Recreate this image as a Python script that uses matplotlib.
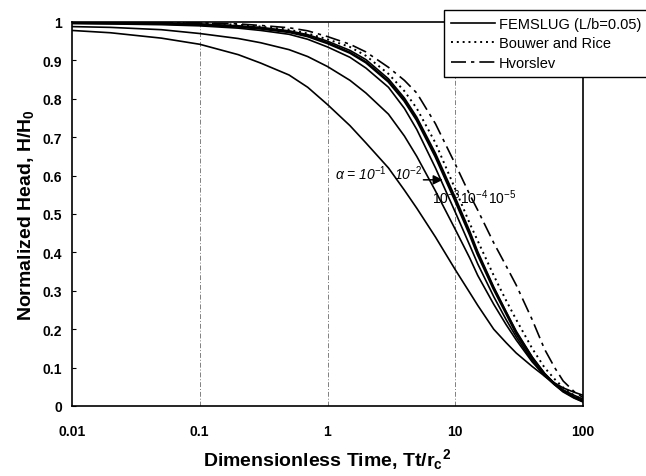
import matplotlib
matplotlib.use("Agg")
import matplotlib.pyplot as plt

plt.rcParams['font.family'] = ['Liberation Sans', 'DejaVu Sans']
plt.rcParams['mathtext.fontset'] = 'custom'
plt.rcParams['mathtext.rm'] = 'Liberation Sans'
plt.rcParams['mathtext.it'] = 'Liberation Sans:italic'
plt.rcParams['mathtext.bf'] = 'Liberation Sans:bold'

# Dimensionless time values (x) at which curves were read
t = [0.01, 0.02, 0.05, 0.1, 0.2, 0.3, 0.5, 0.7, 1, 1.5, 2, 3, 4, 5, 7, 10, 13, 15,
     20, 25, 30, 40, 50, 60, 70, 85, 100]

# FEMSLUG (L/b = 0.05) curves, alpha = 1e-1 ... 1e-5
fem_a1 = [0.978, 0.972, 0.958, 0.942, 0.915, 0.893, 0.862, 0.830, 0.785, 0.730, 0.685, 0.620, 0.562, 0.515,
          0.440, 0.355, 0.295, 0.262, 0.200, 0.165, 0.138, 0.103, 0.078, 0.060, 0.047, 0.036, 0.028]
fem_a2 = [0.988, 0.986, 0.980, 0.970, 0.957, 0.946, 0.928, 0.910, 0.884, 0.848, 0.815, 0.760, 0.703, 0.650,
          0.560, 0.460, 0.385, 0.340, 0.265, 0.212, 0.172, 0.115, 0.080, 0.058, 0.042, 0.028, 0.018]
fem_a3 = [0.996, 0.995, 0.993, 0.990, 0.984, 0.978, 0.968, 0.955, 0.935, 0.908, 0.880, 0.830, 0.775, 0.720,
          0.620, 0.505, 0.418, 0.370, 0.285, 0.225, 0.180, 0.118, 0.078, 0.055, 0.038, 0.024, 0.014]
fem_a4 = [0.998, 0.997, 0.996, 0.993, 0.988, 0.983, 0.974, 0.963, 0.945, 0.920, 0.895, 0.845, 0.795, 0.745,
          0.650, 0.535, 0.447, 0.395, 0.305, 0.242, 0.190, 0.125, 0.083, 0.057, 0.038, 0.022, 0.012]
fem_a5 = [0.999, 0.998, 0.997, 0.995, 0.990, 0.986, 0.977, 0.967, 0.950, 0.926, 0.902, 0.852, 0.802, 0.752,
          0.658, 0.543, 0.455, 0.402, 0.310, 0.246, 0.195, 0.128, 0.085, 0.058, 0.039, 0.022, 0.011]

# Analytical solutions
bouwer_rice = [1.0, 0.999, 0.998, 0.997, 0.993, 0.988, 0.980, 0.970, 0.955, 0.935, 0.912, 0.865, 0.820, 0.775,
               0.685, 0.565, 0.475, 0.430, 0.340, 0.275, 0.225, 0.150, 0.100, 0.070, 0.048, 0.028, 0.016]
hvorslev = [1.0, 1.0, 0.999, 0.998, 0.995, 0.991, 0.985, 0.977, 0.962, 0.942, 0.922, 0.882, 0.848, 0.815,
            0.735, 0.630, 0.550, 0.510, 0.425, 0.365, 0.315, 0.225, 0.148, 0.100, 0.065, 0.038, 0.022]

xticks = [0.01, 0.1, 1, 10, 100]
xticklabels = ['0.01', '0.1', '1', '10', '100']
yticks = [0, 0.1, 0.2, 0.3, 0.4, 0.5, 0.6, 0.7, 0.8, 0.9, 1]
yticklabels = ['0', '0.1', '0.2', '0.3', '0.4', '0.5', '0.6', '0.7', '0.8', '0.9', '1']

fig = plt.figure(figsize=(6.46, 4.77), dpi=100)
ax = fig.add_axes([72/646, 1-407/477, (583-72)/646, (407-23)/477])

for xv in [0.1, 1, 10]:
    ax.axvline(xv, color='0.5', lw=0.7, ls=(0, (5, 2, 1, 2)), zorder=1)

lf, = ax.plot(t, fem_a1, color='black', lw=1.2, zorder=3)
ax.plot(t, fem_a2, color='black', lw=1.2, zorder=3)
ax.plot(t, fem_a3, color='black', lw=1.2, zorder=3)
ax.plot(t, fem_a4, color='black', lw=1.9, zorder=3)
ax.plot(t, fem_a5, color='black', lw=1.2, zorder=3)
lb, = ax.plot(t, bouwer_rice, color='black', lw=1.4, ls=(0, (1, 2)), zorder=3)
lh, = ax.plot(t, hvorslev, color='black', lw=1.2, ls=(0, (9, 3, 2, 3)), zorder=3)

ax.set_xscale('log')
ax.set_xlim(0.01, 100)
ax.set_ylim(0, 1)
ax.set_xticks(xticks)
ax.set_xticklabels(xticklabels, fontweight='bold')
ax.set_yticks(yticks)
ax.set_yticklabels(yticklabels, fontweight='bold')
ax.minorticks_off()
ax.tick_params(axis='x', length=0, pad=13, labelsize=10)
ax.tick_params(axis='y', direction='in', length=3, pad=7, labelsize=10)
for s in ax.spines.values():
    s.set_linewidth(1.2)

ax.set_xlabel(r'Dimensionless Time, Tt/r$_\mathbf{c}$$^\mathbf{2}$', fontsize=14, fontweight='bold', labelpad=6)
ax.set_ylabel(r'Normalized Head, H/H$_\mathbf{0}$', fontsize=14, fontweight='bold', labelpad=5)

ax.text(1.82, 0.607, r'$\it{\alpha}$ = 10$^{-1}$', fontsize=10, style='italic', ha='center', va='center', zorder=4)
ax.text(4.3, 0.607, r'10$^{-2}$', fontsize=10, style='italic', ha='center', va='center', zorder=4)
ax.annotate('', xy=(8.4, 0.589), xytext=(5.36, 0.589),
            arrowprops=dict(arrowstyle='-|>', color='black', lw=1.1, mutation_scale=14), zorder=4)
ax.text(8.4, 0.544, r'10$^{-3}$', fontsize=10, ha='center', va='center', zorder=4)
ax.text(14.0, 0.544, r'10$^{-4}$', fontsize=10, ha='center', va='center', zorder=4)
ax.text(23.2, 0.544, r'10$^{-5}$', fontsize=10, ha='center', va='center', zorder=4)

leg = fig.legend([lf, lb, lh], ['FEMSLUG (L/b=0.05)', 'Bouwer and Rice', 'Hvorslev'],
                 loc='upper left', bbox_to_anchor=(437/646, 1-4/477), fontsize=10.5,
                 frameon=True, fancybox=False, edgecolor='black', framealpha=1,
                 handlelength=3.0, handletextpad=0.3, labelspacing=0.38, borderpad=0.45)
leg.get_frame().set_linewidth(1.0)

fig.savefig('out.png', dpi=100)
